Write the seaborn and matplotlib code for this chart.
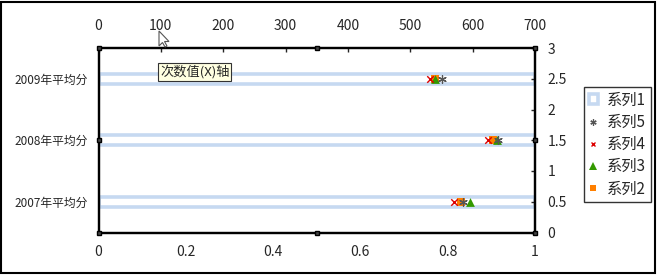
import matplotlib
matplotlib.use("Agg")
import matplotlib.pyplot as plt
import seaborn as sns
import pandas as pd
from matplotlib.patches import Rectangle, Polygon
from matplotlib.lines import Line2D

# ---- data ----
categories = ["2009年平均分", "2008年平均分", "2007年平均分"]   # top to bottom
bar_values = [1.0, 1.0, 1.0]                                     # 系列1 (fills full width)
row_pos = [2.5, 1.5, 0.5]                                        # secondary y for 2009, 2008, 2007
s2_vals = [539, 632, 581]   # 系列2 orange square
s3_vals = [540, 639, 596]   # 系列3 green triangle
s4_vals = [532, 625, 570]   # 系列4 red x
s5_vals = [551, 640, 585]   # 系列5 gray star
bottom_ticks = [0, 0.2, 0.4, 0.6, 0.8, 1]
top_ticks = [0, 100, 200, 300, 400, 500, 600, 700]
right_ticks = [0, 0.5, 1, 1.5, 2, 2.5, 3]

sns.set_style("white")
plt.rcParams["font.family"] = ["Noto Sans CJK SC", "DejaVu Sans"]

W, H = 657, 275
fig = plt.figure(figsize=(6.57, 2.75), dpi=100)

# outer frame
fig.patches.append(Rectangle((0.8 / W, 2.0 / H), 654 / W, 271.5 / H, transform=fig.transFigure,
                             fill=False, ec="black", lw=1.5))

L, R, T, B = 98.5, 535, 48, 232.5
pos = [L / W, 1 - B / H, (R - L) / W, (B - T) / H]
ax = fig.add_axes(pos)

df = pd.DataFrame({"cat": categories, "val": bar_values})
sns.barplot(data=df, x="val", y="cat", orient="h", order=categories, color="#C6D9F1",
            saturation=1, fill=False, width=0.17, linewidth=2.6, ax=ax)
ax.set_xlim(0, 1)
ax.set_ylim(2.5, -0.5)
ax.set_xlabel("")
ax.set_ylabel("")
ax.set_xticks(bottom_ticks)
ax.set_xticklabels(["0", "0.2", "0.4", "0.6", "0.8", "1"])
ax.set_yticks([0.5, 1.5])
ax.set_yticklabels([])
ax.set_yticks([0, 1, 2], minor=True)
ax.set_yticklabels(categories, minor=True)
ax.tick_params(axis="y", which="minor", length=0, pad=8, labelsize=8.5)
ax.tick_params(axis="y", which="major", direction="in", length=3, width=1)
ax.tick_params(axis="x", direction="in", length=3, width=1, pad=9, labelsize=10)
ax.patch.set_alpha(0)

ax2 = fig.add_axes(pos)
ax2.patch.set_alpha(0)
series = [("系列2", s2_vals, "s", "#FF7F00", 30, None, 4.5),
          ("系列3", s3_vals, "^", "#339900", 40, None, 5.5),
          ("系列4", s4_vals, "x", "#DD0000", 22, 1.0, 3.5),
          ("系列5", s5_vals, (6, 2, 0), "#555555", 30, 0.9, 4.5)]
handles = {}
for name, vals, mk, col, sz, lw, lsz in series:
    kw = dict(linewidth=lw) if lw else dict(linewidth=0)
    sns.scatterplot(x=vals, y=row_pos, marker=mk, color=col, s=sz, ax=ax2, **kw)
    handles[name] = Line2D([], [], linestyle="none", marker=mk, color=col,
                           markersize=lsz, markeredgewidth=lw if lw else 0)
ax2.set_xlim(0, 700)
ax2.set_ylim(0, 3)
ax2.xaxis.set_ticks_position("top")
ax2.xaxis.set_label_position("top")
ax2.yaxis.set_ticks_position("right")
ax2.yaxis.set_label_position("right")
ax2.set_xticks(top_ticks)
ax2.set_yticks(right_ticks)
ax2.set_yticklabels(["0", "0.5", "1", "1.5", "2", "2.5", "3"])
ax2.tick_params(axis="x", direction="in", length=3, width=1, pad=11, labelsize=10)
ax2.tick_params(axis="y", direction="in", length=3, width=1, pad=9, labelsize=10)
ax2.set_xlabel("")
ax2.set_ylabel("")

for a in (ax, ax2):
    for s in a.spines.values():
        s.set_linestyle((0, (1, 1)))
        s.set_linewidth(1.6)
        s.set_color("black")

# selection handles
hx = [0, 0.5, 1, 0, 1, 0, 0.5, 1]
hy = [1, 1, 1, 0.5, 0.5, 0, 0, 0]
ax2.plot(hx, hy, linestyle="none", marker="s", markersize=3.2, mfc="#444444", mec="black",
         mew=1.0, transform=ax2.transAxes, clip_on=False, zorder=10)

# legend
bar_handle = Rectangle((0, 0), 1, 1, fill=False, ec="#C6D9F1", lw=2.6)
leg_handles = [bar_handle, handles["系列5"], handles["系列4"], handles["系列3"], handles["系列2"]]
leg_labels = ["系列1", "系列5", "系列4", "系列3", "系列2"]
leg = fig.legend(leg_handles, leg_labels, loc="upper left",
                 bbox_to_anchor=(584 / W, 1 - 87 / H), frameon=True, fancybox=False,
                 fontsize=11, handlelength=0.6, handleheight=0.6, handletextpad=0.6,
                 labelspacing=0.34, borderpad=0.3, borderaxespad=0)
leg.get_frame().set_edgecolor("black")
leg.get_frame().set_linewidth(1)

# tooltip
fig.text(160 / W, 1 - 72 / H, "次数值(X)轴", fontsize=9.5, va="center", ha="left",
         bbox=dict(boxstyle="square,pad=0.15", fc="#FFFFE1", ec="#333333", lw=0.8))

# mouse cursor
cx, cy = 159, 31
pts = [(cx, cy), (cx, cy + 15), (cx + 3.5, cy + 11.5), (cx + 6, cy + 16), (cx + 8, cy + 15),
       (cx + 5.5, cy + 10.5), (cx + 10, cy + 10.5)]
fig.patches.append(Polygon([(x / W, 1 - y / H) for x, y in pts], closed=True,
                           transform=fig.transFigure, fc="white", ec="#555555", lw=0.8, zorder=20))

fig.savefig("out.png", dpi=100)
